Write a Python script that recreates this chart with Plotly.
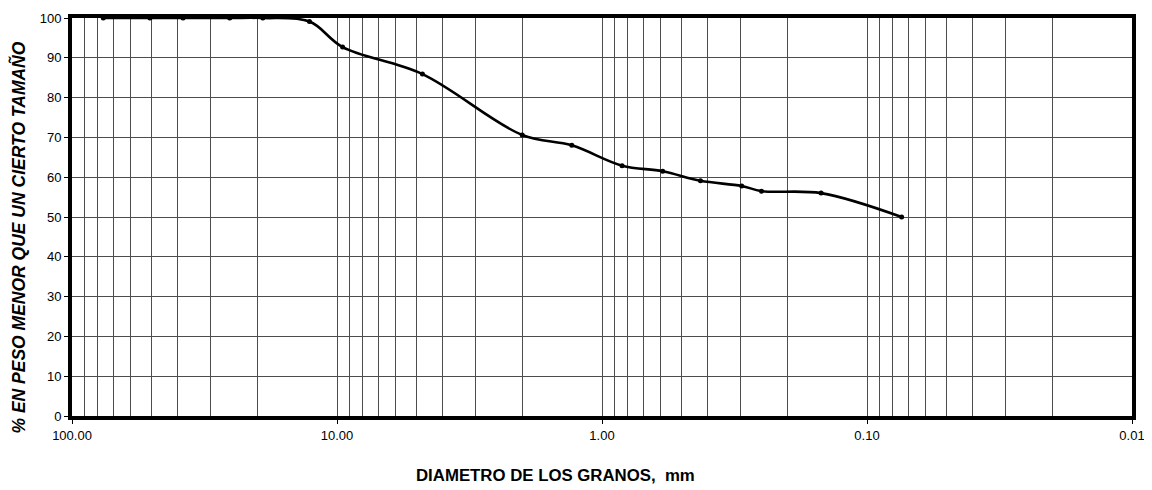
import plotly.graph_objects as go

diametro_mm = [76.2, 50.8, 38.1, 25.4, 19.05, 12.7, 9.525, 4.76, 2.00, 1.30, 0.84, 0.59, 0.425, 0.297, 0.25, 0.149, 0.074]
pasa_pct = [100, 100, 100, 100, 100, 99.1, 92.7, 85.9, 70.6, 68.0, 62.9, 61.5, 59.1, 57.8, 56.5, 56.0, 50.0]

x_tickvals = [100, 10, 1, 0.1, 0.01]
x_ticktext = ["100.00", "10.00", "1.00", "0.10", "0.01"]
y_tickvals = list(range(0, 101, 10))
minor_vals = [m * d for d in [10, 1, 0.1, 0.01] for m in range(2, 10)]

# page has an 8px body margin; size the figure to fit the 1152x490 window
W, H = 1144, 482
L, R, T, B = 64, 20, 10, 74
pw, ph = W - L - R, H - T - B

fig = go.Figure()
fig.add_trace(go.Scatter(
    x=diametro_mm, y=pasa_pct, mode="lines+markers",
    line=dict(color="black", width=2.6, shape="spline", smoothing=1.0),
    marker=dict(color="black", size=5),
    showlegend=False, cliponaxis=False,
))

fam = "Liberation Sans, Arial, sans-serif"
font = dict(family=fam, size=13, color="black")

fig.update_xaxes(
    type="log", range=[2, -2], automargin=False,
    tickmode="array", tickvals=x_tickvals, ticktext=x_ticktext,
    ticks="outside", ticklen=4, tickcolor="black", tickwidth=1,
    showgrid=True, gridcolor="#4d4d4d", gridwidth=1,
    minor=dict(tickmode="array", tickvals=minor_vals, showgrid=True,
               gridcolor="#4d4d4d", gridwidth=1, ticklen=0),
    showline=True, linecolor="black", linewidth=4, mirror=True,
    zeroline=False, tickfont=font,
)
fig.update_yaxes(
    range=[0, 100], automargin=False, tickmode="array", tickvals=y_tickvals,
    ticks="outside", ticklen=4, tickcolor="black", tickwidth=1,
    showgrid=True, gridcolor="#4d4d4d", gridwidth=1,
    showline=True, linecolor="black", linewidth=4, mirror=True,
    zeroline=False, tickfont=font,
)

fig.add_annotation(
    text="<b><i>% EN PESO MENOR QUE UN CIERTO TAMAÑO</i></b>",
    xref="paper", yref="paper", textangle=-90,
    x=(10.5 - L) / pw, y=(H - B - 230) / ph, xanchor="center", yanchor="middle",
    showarrow=False, font=dict(family=fam, size=17.5, color="black"),
)
fig.add_annotation(
    text="<b>DIAMETRO DE LOS GRANOS,&nbsp; mm</b>", xref="paper", yref="paper",
    x=(547 - L) / pw, y=(H - B - 467) / ph, xanchor="center", yanchor="middle",
    showarrow=False, font=dict(family=fam, size=16.8, color="black"),
)

fig.update_layout(
    width=W, height=H,
    margin=dict(l=L, r=R, t=T, b=B, autoexpand=False),
    plot_bgcolor="white", paper_bgcolor="white",
)

fig.write_html("out.html")
